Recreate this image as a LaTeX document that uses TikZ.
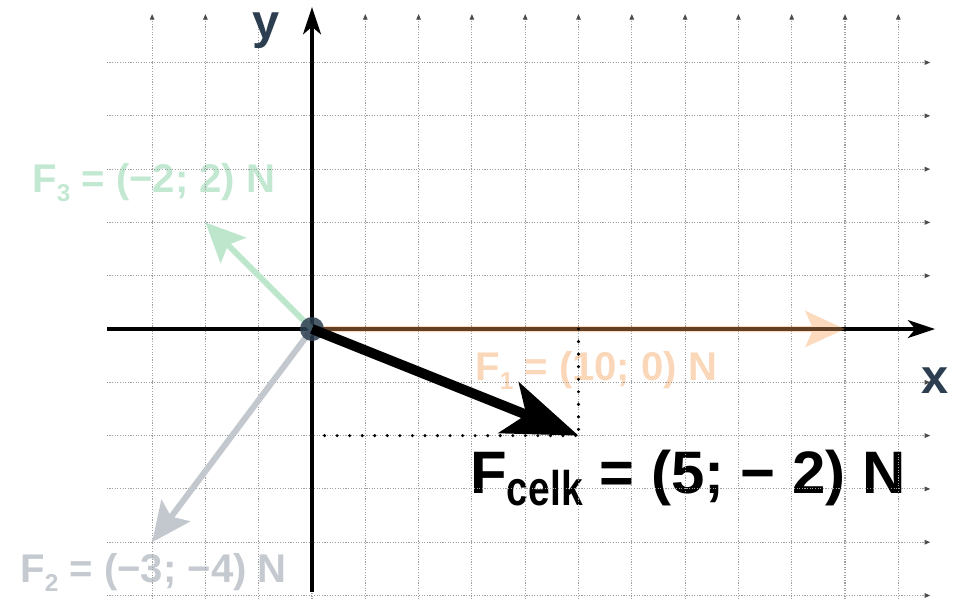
\documentclass[tikz,border=0pt]{standalone}
\usepackage{fontspec}
\setmainfont{Liberation Sans}
\usetikzlibrary{arrows.meta}
\definecolor{navy}{HTML}{2C3E50}
\definecolor{vorange}{HTML}{F5A25D}
\definecolor{vgreen}{HTML}{BDE6CD}
\definecolor{vgray}{HTML}{C3C8CE}
\definecolor{lgreen}{HTML}{C2E8D2}
\definecolor{lorange}{HTML}{FAD7B9}
\definecolor{lgray}{HTML}{C5CAD0}
\definecolor{gridc}{HTML}{A0A0A0}
\newcommand{\vsub}[1]{\raisebox{-5pt}{\fontsize{13pt}{14pt}\selectfont #1}}
\begin{document}
\begin{tikzpicture}[
  gridline/.style={gridc, line width=0.6pt, dash pattern=on 0.6pt off 0.8pt},
  gridtip/.style={-{Triangle[length=3pt,width=2.4pt,color=black!70]}},
  axis/.style={line width=2.1pt, -{Stealth[length=14.5pt,width=9.5pt,inset=4pt]}},
  vec/.style={line width=3.2pt, -{Stealth[length=21pt,width=19pt,inset=4pt]}},
  resvec/.style={line width=5.3pt, -{Stealth[length=40pt,width=29pt,inset=10pt]}},
  helper/.style={line width=1.8pt, dash pattern=on 0pt off 6.7pt, line cap=round},
  lab/.style={inner sep=0pt, anchor=base west, font=\fontsize{21.4pt}{25pt}\selectfont\bfseries},
  axlab/.style={inner sep=0pt, text=navy, font=\fontsize{26pt}{30pt}\selectfont\bfseries},
]
\useasboundingbox (-5.854,-5.066) rectangle (12.064,6.173);

% labels (drawn first, grid shows over them)
\node[lab, text=lgreen] (L3) at (-5.254,2.570) {F\vsub{3} = (−2; 2) N};
\node[lab, text=lorange] (L1) at (3.058,-0.957) {F\vsub{1} = (10; 0) N};
\node[lab, text=lgray] (L2) at (-5.478,-4.747) {F\vsub{2} = (−3; −4) N};
\node[inner sep=0pt, anchor=base west, font=\fontsize{32pt}{36pt}\selectfont\bfseries] (LR) at (2.964,-3.077)
  {F\raisebox{-6.4pt}{\scalebox{0.8}[1]{\fontsize{26pt}{30pt}\selectfont celk}} = (5; − 2) N};

% grid
\foreach \x in {-3,...,11} \draw[gridline,gridtip] (\x,-5.07) -- (\x,5.91);
\foreach \y in {-5,...,5} \draw[gridline,gridtip] (-3.85,\y) -- (11.6,\y);

% axes
\coordinate (xs) at (-3.85,0);
\coordinate (xe) at (11.69,0);
\coordinate (ys) at (0,-4.93);
\coordinate (ye) at (0,6.04);
\draw[axis] (xs) -- (xe);
\draw[axis] (ys) -- (ye);
\node[axlab] (xl) at (11.69,-0.96) {x};
\node[axlab] (yl) at (-0.854,5.59) {y};

% points
\coordinate (O) at (0,0);
\coordinate (P1) at (10,0);
\coordinate (P2) at (-3,-4);
\coordinate (P3) at (-2,2);
\coordinate (R) at (5,-2);
\coordinate (Rx) at (5,0);
\coordinate (Ry) at (0,-2);

% vectors
\begin{scope}[transparency group, opacity=0.4]
\draw[vec, vorange] (O) -- (P1);
\end{scope}
\draw[vec, vgray] (O) -- (P2);
\draw[vec, vgreen] (O) -- (P3);
\fill[navy, opacity=0.85] (O) circle (0.225);
\draw[helper] (Ry) -- (R);
\draw[helper] (Rx) -- (R);
\draw[resvec] (O) -- (R);
\end{tikzpicture}
\end{document}
